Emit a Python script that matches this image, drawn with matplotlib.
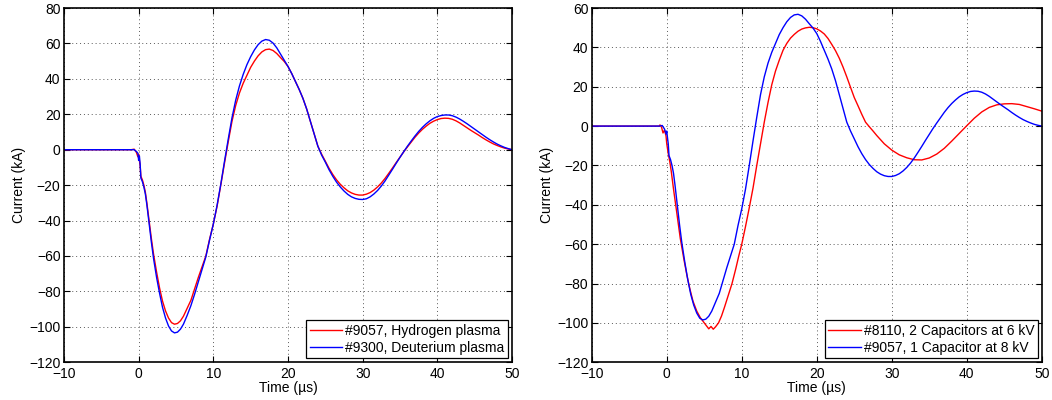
import matplotlib
matplotlib.use("Agg")
import matplotlib.pyplot as plt

plt.rcParams['font.family'] = ['Liberation Sans', 'DejaVu Sans']

# ---- data: shot #9057 (hydrogen plasma, 1 capacitor at 8 kV) ----
t_9057 = [-10, -1.0, -0.6, -0.3, -0.1, 0.0, 0.1, 0.2, 0.3, 0.5, 0.7, 0.9, 1.1, 1.4, 1.7, 2.0,
          2.4, 2.8, 3.2, 3.6, 4.0, 4.4, 4.8, 5.2, 5.6, 6.0, 6.5, 7.0, 7.5, 8.0, 8.5, 9.0,
          9.5, 10.0, 10.5, 11.0, 11.5, 12.0, 12.5, 13.0, 13.5, 14.0, 14.5, 15.0, 15.5, 16.0,
          16.5, 17.0, 17.5, 18.0, 18.5, 19.0, 19.5, 20.0, 20.5, 21.0, 21.5, 22.0, 22.5, 23.0,
          23.5, 24.0, 24.5, 25.0, 25.5, 26.0, 26.5, 27.0, 27.5, 28.0, 28.5, 29.0, 29.5, 30.0,
          30.5, 31.0, 31.5, 32.0, 32.5, 33.0, 33.5, 34.0, 34.5, 35.0, 35.5, 36.0, 36.5, 37.0,
          37.5, 38.0, 38.5, 39.0, 39.5, 40.0, 40.5, 41.0, 41.5, 42.0, 42.5, 43.0, 43.5, 44.0,
          44.5, 45.0, 45.5, 46.0, 46.5, 47.0, 47.5, 48.0, 48.5, 49.0, 49.5, 50.0]
i_9057 = [0, 0, 0.3, -1.5, -4, -2.5, -6, -9, -15, -17, -20, -24, -30, -40, -50, -59,
          -69, -78, -85.5, -91, -95, -97.6, -98.5, -98.1, -96.6, -94, -89.5, -85, -78.5, -72, -66, -60,
          -50.5, -42, -32, -20, -7.5, 4.5, 16, 25, 32, 37.5, 42, 46.5, 50, 53,
          55.2, 56.5, 56.8, 56, 54.3, 52, 49.8, 47, 43, 38.5, 34, 29, 23, 16,
          9, 2, -2.5, -6.5, -10.5, -14, -17, -19.5, -21.5, -23.2, -24.4, -25.2, -25.6, -25.6,
          -25.1, -24.2, -22.8, -21, -18.8, -16.2, -13.3, -10.3, -7.2, -4.2, -1.2, 1.6, 4.3, 7,
          9.4, 11.5, 13.3, 14.9, 16.1, 17, 17.6, 17.8, 17.7, 17.2, 16.3, 15.1, 13.7, 12.3,
          10.9, 9.6, 8.3, 6.9, 5.6, 4.4, 3.3, 2.4, 1.6, 0.9, 0.4, 0]

# ---- shot #9300 (deuterium plasma) ----
t_9300 = t_9057
i_9300 = [0, 0, 0, -1, -2, -6, -3.5, -8, -16, -18, -21, -25, -31, -41.5, -52, -61.5,
          -72, -81, -89, -95, -99.5, -102.3, -103.4, -103, -101.3, -98.5, -93.5, -88, -81.5, -74.5, -67.5, -60.5,
          -51, -42, -31.5, -19.5, -6.5, 6, 18, 28, 36, 42.5, 48, 52.5, 56.3, 59.3,
          61.3, 62.2, 61.8, 60.2, 57.5, 54, 50.5, 47, 43, 38.5, 34, 29, 23, 16,
          9, 2, -3, -7, -11.3, -15, -18.3, -21, -23.3, -25.2, -26.6, -27.5, -28, -28.1,
          -27.7, -26.6, -25, -23, -20.5, -17.6, -14.3, -11, -7.6, -4.3, -1.1, 2, 4.9, 7.7,
          10.3, 12.6, 14.6, 16.3, 17.7, 18.7, 19.3, 19.6, 19.6, 19.2, 18.4, 17.3, 16, 14.6,
          13.1, 11.6, 10.1, 8.6, 7.1, 5.7, 4.4, 3.2, 2.2, 1.3, 0.6, 0]

# ---- shot #8110 (2 capacitors at 6 kV) ----
t_8110 = [-10, -1.0, -0.9, -0.7, -0.5, -0.3, -0.1, 0.0, 0.2, 0.4, 0.6, 0.9, 1.3, 1.8, 2.3, 2.7,
          3.1, 3.5, 4.0, 4.5, 5.0, 5.3, 5.6, 5.9, 6.2, 6.5, 6.9, 7.3, 7.7, 8.2, 8.7, 9.2,
          9.6, 10.0, 10.5, 11.0, 11.5, 12.0, 12.5, 13.0, 13.5, 14.0, 14.5, 15.0, 15.5, 16.0,
          16.5, 17.0, 17.5, 18.0, 18.5, 19.0, 19.5, 20.0, 20.5, 21.0, 21.5, 22.0, 22.5, 23.0,
          23.5, 24.0, 24.5, 25.0, 25.5, 26.0, 26.5, 27.0, 27.5, 28.0, 29, 30, 31, 32, 33, 34,
          35, 36, 37, 38, 39, 40, 41, 42, 43, 44, 45, 46, 47, 48, 49, 50]
i_8110 = [0, 0, 0.6, -0.5, -3.5, -2, -5, -9, -14, -18, -23, -32, -43, -57, -68, -76,
          -83, -89, -94, -97.5, -100, -101.5, -103, -101.8, -103.2, -102, -100, -96.5, -92, -86, -80, -72.5,
          -66, -60, -51, -41.5, -31.5, -20, -9, 2, 12, 21, 28, 33.5, 38.5, 42,
          44.7, 46.6, 48.2, 49.3, 49.9, 50.2, 50, 49.4, 48.3, 46.8, 44.5, 41.5, 38.3, 34.5,
          30, 25, 19.7, 14.5, 10.3, 6, 2, -0.3, -2.5, -4.8, -9, -12.2, -14.6, -16.1, -17.1, -17.2,
          -16.2, -14.2, -11.3, -7.6, -3.7, 0.2, 4, 7.2, 9.5, 10.8, 11.3, 11.4, 11, 9.9, 8.8, 7.6]

x_ticks = [-10, 0, 10, 20, 30, 40, 50]
y_ticks_left = [-120, -100, -80, -60, -40, -20, 0, 20, 40, 60, 80]
y_ticks_right = [-120, -100, -80, -60, -40, -20, 0, 20, 40, 60]

labels_left = ['#9057, Hydrogen plasma', '#9300, Deuterium plasma']
labels_right = ['#8110, 2 Capacitors at 6 kV', '#9057, 1 Capacitor at 8 kV']

FS = 10

fig = plt.figure(figsize=(10.52, 4.0), dpi=100)
ax1 = fig.add_axes([0.0608, 0.0943, 0.4259, 0.8857])
ax2 = fig.add_axes([0.5625, 0.0943, 0.4278, 0.8857])


def style(ax, yticks):
    ax.set_xlim(-10, 50)
    ax.set_ylim(yticks[0], yticks[-1])
    ax.set_xticks(x_ticks)
    ax.set_yticks(yticks)
    ax.grid(True, color='0.35', linestyle=(0, (1, 3)), linewidth=0.7)
    ax.tick_params(direction='in', top=True, right=True, length=4, width=0.8,
                   labelsize=FS, pad=2.5)
    ax.tick_params(axis='x', pad=3.5)
    for s in ax.spines.values():
        s.set_linewidth(1.2)
    ax.set_xlabel('Time (µs)', fontsize=FS, labelpad=0)
    ax.set_ylabel('Current (kA)', fontsize=FS, labelpad=2)


ax1.plot(t_9057, i_9057, color='#ff0000', lw=1.0, label=labels_left[0])
ax1.plot(t_9300, i_9300, color='#0000ff', lw=1.0, label=labels_left[1])
style(ax1, y_ticks_left)

ax2.plot(t_8110, i_8110, color='#ff0000', lw=1.0, label=labels_right[0])
ax2.plot(t_9057, i_9057, color='#0000ff', lw=1.0, label=labels_right[1])
style(ax2, y_ticks_right)

for ax in (ax1, ax2):
    leg = ax.legend(loc='lower right', fontsize=FS, frameon=True, fancybox=False,
                    edgecolor='black', framealpha=1, borderaxespad=0.3,
                    handlelength=2.35, handletextpad=0.2, labelspacing=0.2,
                    borderpad=0.25)
    leg.get_frame().set_linewidth(0.9)

fig.savefig('out.png', dpi=100)
